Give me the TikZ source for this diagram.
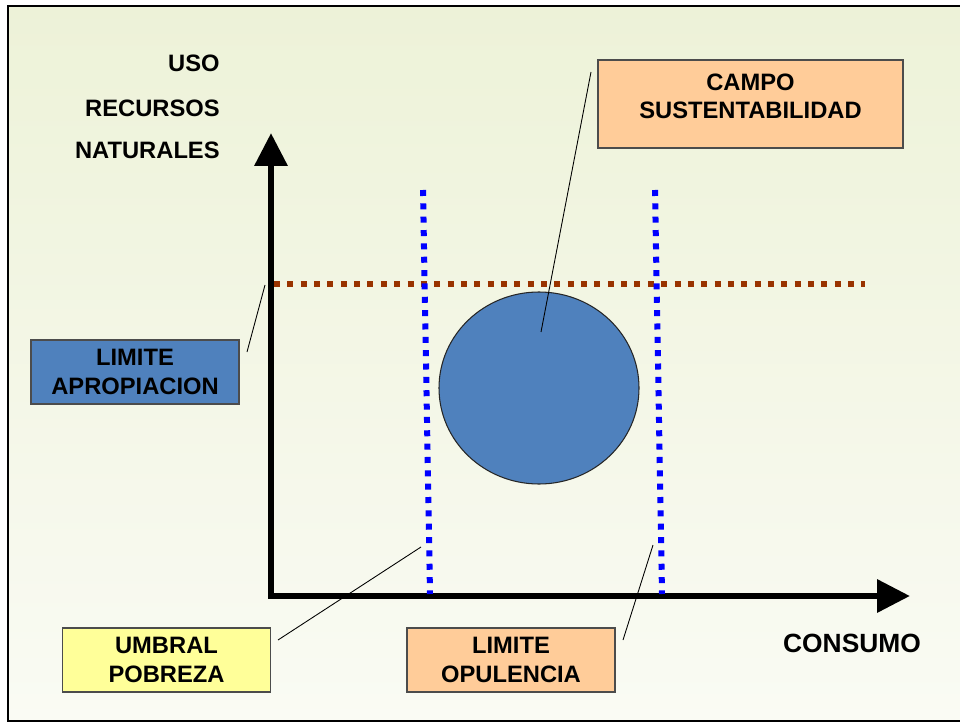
\documentclass[tikz,border=0pt]{standalone}
\usepackage{fontspec}
\setmainfont{Liberation Sans}
\usetikzlibrary{arrows.meta,shapes.geometric}
\definecolor{bgtop}{RGB}{237,242,216}
\definecolor{bgbottom}{RGB}{250,251,244}
\definecolor{peach}{RGB}{255,204,153}
\definecolor{paleyellow}{RGB}{255,255,153}
\definecolor{steelblue}{RGB}{79,129,189}
\definecolor{rust}{RGB}{153,51,0}
\tikzset{
  txt/.style={font=\fontsize{13.5}{16}\selectfont\bfseries, inner sep=0pt},
  box/.style={txt, draw=black!70, line width=0.6pt, align=center,
    minimum width=41.6mm, minimum height=12.8mm},
  axis/.style={line width=1.3mm, line join=miter,
    {Triangle[length=6.6mm,width=6.4mm]}-{Triangle[length=6.6mm,width=6.4mm]}},
  limit/.style={line width=1.2mm, dash pattern=on 1.2mm off 1.47mm},
  leader/.style={line width=0.5pt}
}
\begin{document}
\begin{tikzpicture}[x=0.2mm,y=-0.2mm]
  \useasboundingbox (0,0) rectangle (960,723);
  \fill[white] (0,0) rectangle (960,723);
  \shade[top color=bgtop, bottom color=bgbottom] (8,6) rectangle (966,721);
  \draw[line width=0.45mm] (8,6) rectangle (966,721);

  % axis labels
  \node[txt, anchor=east] (uso) at (220,63) {USO};
  \node[txt, anchor=east] (recursos) at (220,108) {RECURSOS};
  \node[txt, anchor=east] (naturales) at (220,150) {NATURALES};
  \node[txt, font=\fontsize{15}{18}\selectfont\bfseries] (consumo) at (852,643) {CONSUMO};

  % axes
  \coordinate (ytip) at (271,133);
  \coordinate (origin) at (271,596);
  \coordinate (xtip) at (910,596);
  \draw[axis] (ytip) -- (origin) -- (xtip);

  % limits
  \draw[limit, rust] (274,284) -- (865,284);
  \draw[limit, blue] (423,190) -- (430,594);
  \draw[limit, blue] (655,190) -- (662,594);

  \node[ellipse, draw=black!85, fill=steelblue, line width=0.6pt, inner sep=0pt,
    minimum width=40mm, minimum height=38.4mm] (campo sust) at (539,388) {};

  % boxes
  \node[box, fill=peach, minimum width=61mm, minimum height=17.6mm,
    label={[txt, align=center, yshift=4.5pt]center:CAMPO\\SUSTENTABILIDAD}]
    (campo) at (750.5,104) {};
  \node[box, fill=steelblue] (apropiacion) at (135,372) {LIMITE\\APROPIACION};
  \node[box, fill=paleyellow] (umbral) at (166.5,660) {UMBRAL\\POBREZA};
  \node[box, fill=peach] (opulencia) at (511,660) {LIMITE\\OPULENCIA};

  % leaders
  \coordinate (campo a) at (591,72);
  \coordinate (campo b) at (541,332);
  \coordinate (aprop a) at (247,352);
  \coordinate (aprop b) at (265,285);
  \coordinate (umbral a) at (278,640);
  \coordinate (umbral b) at (421,547);
  \coordinate (opul a) at (623,640);
  \coordinate (opul b) at (653,545);
  \begin{scope}[leader]
    \draw (campo a) to (campo b);
    \draw (aprop a) to (aprop b);
    \draw (umbral a) to (umbral b);
    \draw (opul a) to (opul b);
  \end{scope}
\end{tikzpicture}
\end{document}
